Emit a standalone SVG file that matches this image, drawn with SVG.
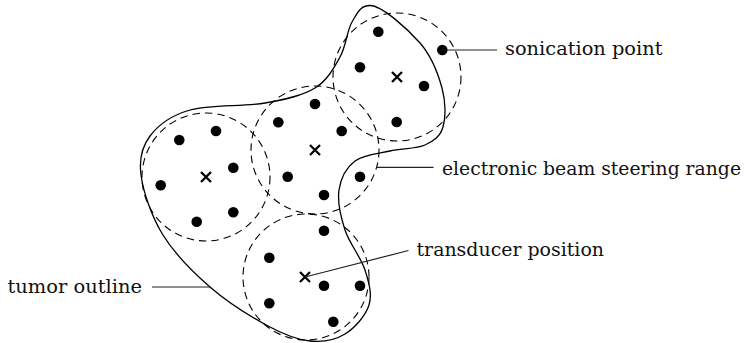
<svg xmlns="http://www.w3.org/2000/svg" width="745" height="343" viewBox="0 0 745 343">
<style>
.outline{fill:none;stroke:#000;stroke-width:1.3}
.range{fill:none;stroke:#000;stroke-width:1.1;stroke-dasharray:7.5 5}
.dot{fill:#000}
.cross{stroke:#000;stroke-width:2.3;fill:none}
.lead{stroke:#222;stroke-width:1.2;fill:none}
.lbl{font-family:'DejaVu Serif','Liberation Serif',serif;font-size:19px;fill:#111}
</style>
<defs>
<g id="x"><path class="cross" d="M-5,-5L5,5M-5,5L5,-5"/></g>
</defs>
<g id="tumor">
<path class="outline" d="M370,5.5 C382,5.5 408,29.33 420,43 C432,56.67 438.17,74 442,88 C445.83,102 445.83,117.5 443,127 C440.17,136.5 433.83,141 425,145 C416.17,149 401.67,148.33 390,151 C378.33,153.67 363.5,154.5 355,161 C346.5,167.5 340.67,178.5 339,190 C337.33,201.5 340.67,216.67 345,230 C349.33,243.33 361,257.5 365,270 C369,282.5 372.33,294.33 369,305 C365.67,315.67 354.83,328 345,334 C335.17,340 322.83,342.33 310,341 C297.17,339.67 284.67,335 268,326 C251.33,317 227.5,302.17 210,287 C192.5,271.83 174.5,253.67 163,235 C151.5,216.33 143.17,191.5 141,175 C138.83,158.5 141.83,146.83 150,136 C158.17,125.17 170.83,115.5 190,110 C209.17,104.5 244.17,106.67 265,103 C285.83,99.33 302.5,95.67 315,88 C327.5,80.33 333.83,68 340,57 C346.17,46 347,30.5 352,22 C357,13.5 360,5.5 370,5.5 Z"/>
</g>
<g id="ranges">
<circle class="range" cx="397" cy="77" r="64"/>
<circle class="range" cx="315" cy="150" r="64"/>
<circle class="range" cx="206" cy="177" r="64"/>
<circle class="range" cx="306" cy="277" r="63"/>
</g>
<g id="transducers">
<use href="#x" x="397" y="77"/>
<use href="#x" x="315" y="150"/>
<use href="#x" x="206" y="177"/>
<use href="#x" x="305" y="277"/>
</g>
<g id="sonication-points">
<circle class="dot" cx="378.3" cy="31.7" r="5.3"/>
<circle class="dot" cx="442.3" cy="50" r="5.3"/>
<circle class="dot" cx="360" cy="67.3" r="5.3"/>
<circle class="dot" cx="424" cy="86" r="5.3"/>
<circle class="dot" cx="396.7" cy="122" r="5.3"/>
<circle class="dot" cx="315" cy="104" r="5.3"/>
<circle class="dot" cx="278.3" cy="122.3" r="5.3"/>
<circle class="dot" cx="341.7" cy="131" r="5.3"/>
<circle class="dot" cx="216" cy="131" r="5.3"/>
<circle class="dot" cx="179.3" cy="140" r="5.3"/>
<circle class="dot" cx="233.3" cy="167.7" r="5.3"/>
<circle class="dot" cx="160.7" cy="185.3" r="5.3"/>
<circle class="dot" cx="287.7" cy="176.7" r="5.3"/>
<circle class="dot" cx="360" cy="176.7" r="5.3"/>
<circle class="dot" cx="324" cy="195" r="5.3"/>
<circle class="dot" cx="196.7" cy="221.7" r="5.3"/>
<circle class="dot" cx="233.3" cy="212.3" r="5.3"/>
<circle class="dot" cx="324" cy="230.7" r="5.3"/>
<circle class="dot" cx="269.3" cy="257.7" r="5.3"/>
<circle class="dot" cx="324" cy="285.7" r="5.3"/>
<circle class="dot" cx="360" cy="285.7" r="5.3"/>
<circle class="dot" cx="269.3" cy="303.3" r="5.3"/>
<circle class="dot" cx="333.3" cy="321.7" r="5.3"/>
</g>
<g id="connectors">
<path class="lead" d="M442.3,50H497"/>
<path class="lead" d="M376.7,167.3H433.5"/>
<path class="lead" d="M305,277L408.5,250.5"/>
<path class="lead" d="M152,287H210"/>
</g>
<g id="label-sonication"><text class="lbl" x="505" y="55" textLength="157.5" lengthAdjust="spacingAndGlyphs">sonication point</text></g>
<g id="label-steering"><text class="lbl" x="442" y="175" textLength="299" lengthAdjust="spacingAndGlyphs">electronic beam steering range</text></g>
<g id="label-transducer"><text class="lbl" x="416.5" y="255.5" textLength="187.5" lengthAdjust="spacingAndGlyphs">transducer position</text></g>
<g id="label-tumor"><text class="lbl" x="7.5" y="293" textLength="134.5" lengthAdjust="spacingAndGlyphs">tumor outline</text></g>
</svg>
